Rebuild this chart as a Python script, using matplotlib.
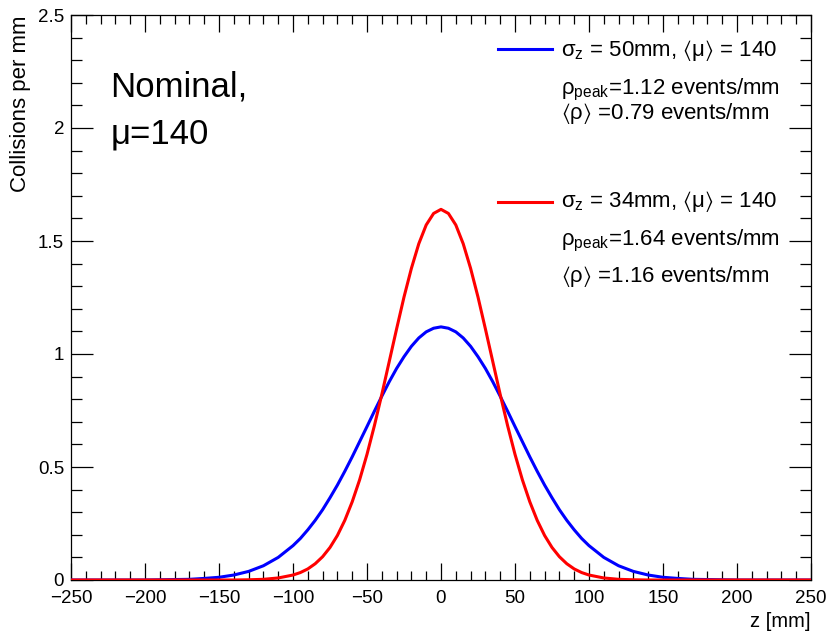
import matplotlib
matplotlib.use("Agg")
import matplotlib.pyplot as plt
from matplotlib.ticker import MultipleLocator

# === DADOS ===
z_mm = [-250, -240, -230, -220, -210, -200, -190, -180, -170, -160, -150, -140, -130, -120, -110,
        -100, -95, -90, -85, -80, -75, -70, -65, -60, -55, -50, -45, -40, -35, -30, -25, -20, -15, -10, -5,
        0, 5, 10, 15, 20, 25, 30, 35, 40, 45, 50, 55, 60, 65, 70, 75, 80, 85, 90, 95, 100,
        110, 120, 130, 140, 150, 160, 170, 180, 190, 200, 210, 220, 230, 240, 250]

rho_sigma50 = [0.000, 0.000, 0.000, 0.000, 0.000, 0.000, 0.001, 0.002, 0.003, 0.007, 0.012, 0.022, 0.038, 0.063, 0.100,
               0.152, 0.184, 0.222, 0.264, 0.311, 0.364, 0.420, 0.481, 0.545, 0.612, 0.679, 0.747, 0.813, 0.877, 0.936, 0.988, 1.034, 1.071, 1.098, 1.114,
               1.120, 1.114, 1.098, 1.071, 1.034, 0.988, 0.936, 0.877, 0.813, 0.747, 0.679, 0.612, 0.545, 0.481, 0.420, 0.364, 0.311, 0.264, 0.222, 0.184, 0.152,
               0.100, 0.063, 0.038, 0.022, 0.012, 0.007, 0.003, 0.002, 0.001, 0.000, 0.000, 0.000, 0.000, 0.000, 0.000]

rho_sigma34 = [0.000, 0.000, 0.000, 0.000, 0.000, 0.000, 0.000, 0.000, 0.000, 0.000, 0.000, 0.000, 0.001, 0.003, 0.009,
               0.022, 0.033, 0.049, 0.072, 0.103, 0.144, 0.197, 0.264, 0.346, 0.443, 0.556, 0.683, 0.821, 0.966, 1.111, 1.252, 1.379, 1.488, 1.571, 1.622,
               1.640, 1.622, 1.571, 1.488, 1.379, 1.252, 1.111, 0.966, 0.821, 0.683, 0.556, 0.443, 0.346, 0.264, 0.197, 0.144, 0.103, 0.072, 0.049, 0.033, 0.022,
               0.009, 0.003, 0.001, 0.000, 0.000, 0.000, 0.000, 0.000, 0.000, 0.000, 0.000, 0.000, 0.000, 0.000, 0.000]

xticks = [-250, -200, -150, -100, -50, 0, 50, 100, 150, 200, 250]
xtick_labels = ["\u2212250", "\u2212200", "\u2212150", "\u2212100", "\u221250", "0", "50", "100", "150", "200", "250"]
yticks = [0, 0.5, 1, 1.5, 2, 2.5]
ytick_labels = ["0", "0.5", "1", "1.5", "2", "2.5"]

legenda_azul = [r"σ$_{z}$ = 50mm, $\langle$μ$\rangle$ = 140", "ρ$_{peak}$=1.12 events/mm", r"$\langle$ρ$\rangle$ =0.79 events/mm"]
legenda_verm = [r"σ$_{z}$ = 34mm, $\langle$μ$\rangle$ = 140", "ρ$_{peak}$=1.64 events/mm", r"$\langle$ρ$\rangle$ =1.16 events/mm"]

# === ESTILO ===
plt.rcParams['font.family'] = ['Liberation Sans', 'DejaVu Sans']
plt.rcParams['mathtext.default'] = 'regular'

fig = plt.figure(figsize=(8.28, 6.31), dpi=100)
ax = fig.add_axes([71 / 828, 1 - 580 / 631, 740 / 828, 565 / 631])

ax.plot(z_mm, rho_sigma50, color='#0000ff', lw=2.2, zorder=3, solid_joinstyle='round')
ax.plot(z_mm, rho_sigma34, color='#ff0000', lw=2.2, zorder=3, solid_joinstyle='round')

ax.set_xlim(-250, 250)
ax.set_ylim(0, 2.5)
ax.set_xticks(xticks)
ax.set_xticklabels(xtick_labels)
ax.set_yticks(yticks)
ax.set_yticklabels(ytick_labels)
ax.xaxis.set_minor_locator(MultipleLocator(10))
ax.yaxis.set_minor_locator(MultipleLocator(0.1))

ax.tick_params(which='both', direction='in', top=True, right=True, width=0.9, labelsize=13.5)
ax.tick_params(axis='x', which='major', length=12, pad=7)
ax.tick_params(axis='x', which='minor', length=6.5)
ax.tick_params(axis='y', which='major', length=16, pad=5)
ax.tick_params(axis='y', which='minor', length=8)
for s in ax.spines.values():
    s.set_linewidth(0.9)

ax.set_xlabel("z [mm]", fontsize=14.5, loc='right', labelpad=4)
ax.set_ylabel("Collisions per mm", fontsize=16, loc='top', labelpad=5)

# === TEXTOS ===
ax.text(0.053, 0.855, "Nominal,", transform=ax.transAxes, fontsize=25, va='baseline', ha='left')
ax.text(0.053, 0.773, "μ=140", transform=ax.transAxes, fontsize=25, va='baseline', ha='left')

def bloco(y_linha, ys, cor, linhas):
    ax.plot([0.577, 0.65], [y_linha, y_linha], color=cor, lw=2.2, transform=ax.transAxes, clip_on=False)
    for y, t in zip(ys, linhas):
        ax.text(0.662, y, t, transform=ax.transAxes, fontsize=16, va='center', ha='left')

bloco(0.940, [0.937, 0.868, 0.825], '#0000ff', legenda_azul)
bloco(0.669, [0.670, 0.600, 0.537], '#ff0000', legenda_verm)

fig.savefig("out.png", dpi=100)
